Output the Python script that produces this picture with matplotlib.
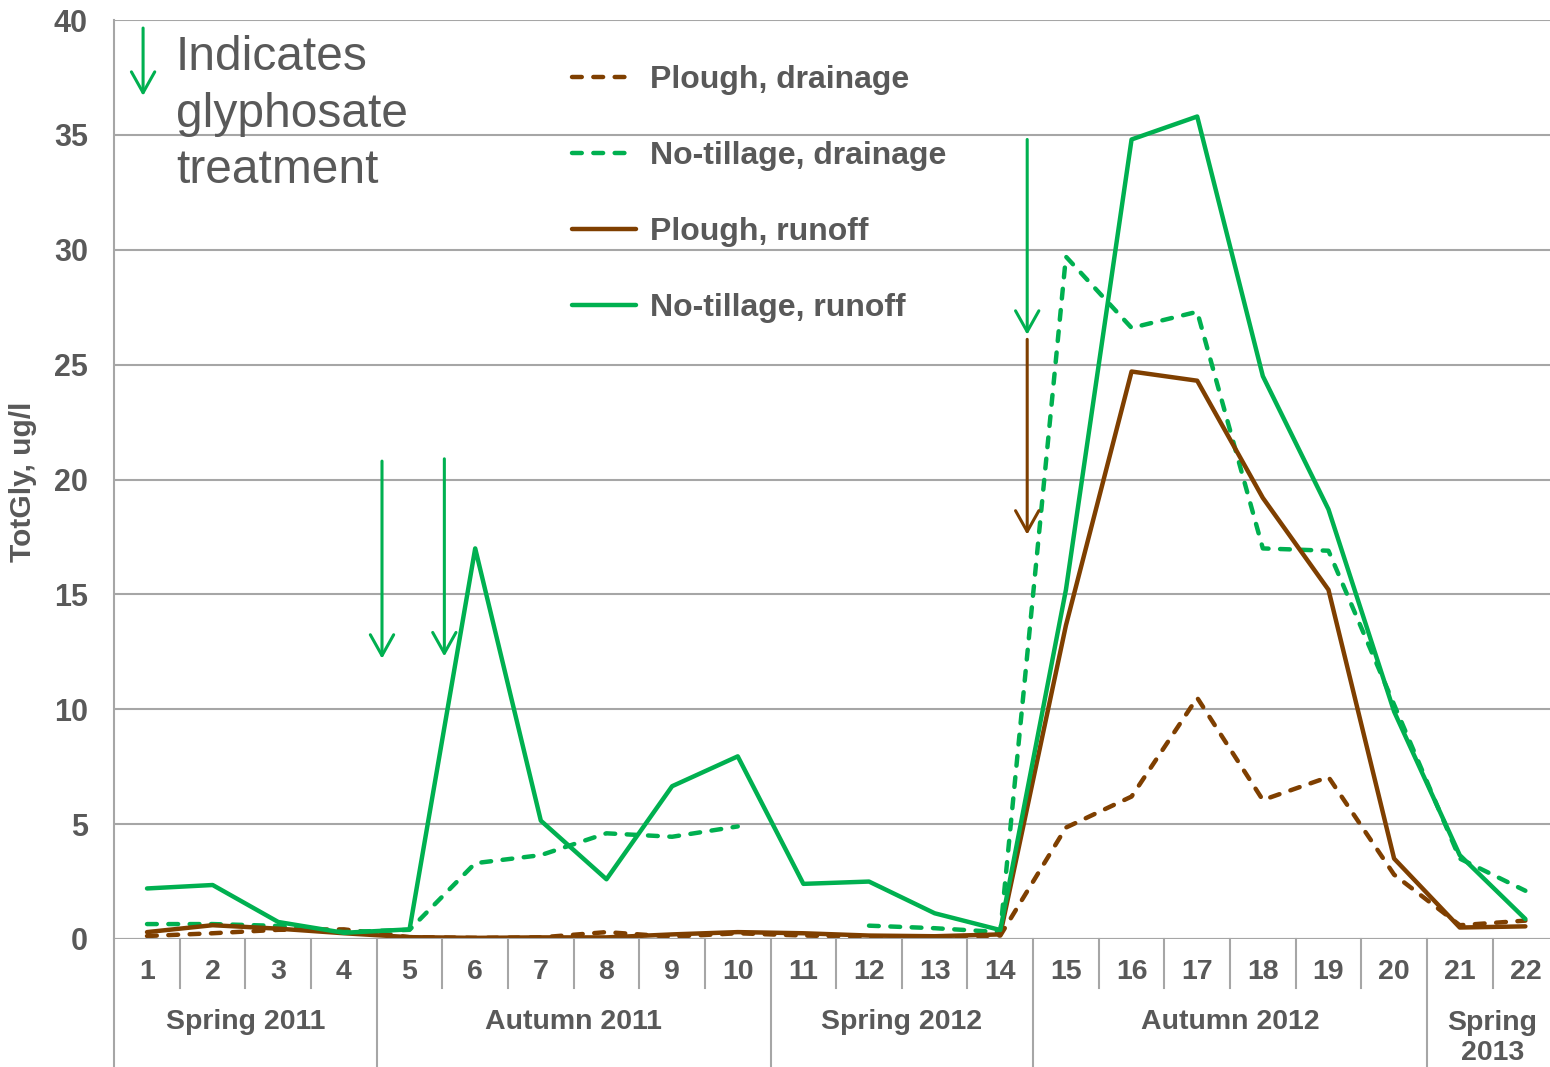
import matplotlib
matplotlib.use("Agg")
import matplotlib.pyplot as plt
import matplotlib.transforms as mtransforms
from matplotlib.lines import Line2D
import numpy as np

plt.rcParams['font.family'] = ['Liberation Sans', 'DejaVu Sans']

# data
samples = list(range(1, 23))
plough_drainage = [0.13, 0.25, 0.4, 0.42, 0.08, 0.05, 0.07, 0.3, 0.1, 0.25, 0.15,
                   0.1, 0.1, 0.15, 4.85, 6.2, 10.5, 6.05, 7.05, 2.8, 0.6, 0.8]
notill_drainage = [0.65, 0.65, 0.57, 0.3, 0.4, 3.3, 3.65, 4.6, 4.45, 4.9, np.nan,
                   0.58, 0.47, 0.3, 29.7, 26.6, 27.3, 17.0, 16.9, 10.2, 3.5, 2.1]
plough_runoff = [0.3, 0.6, 0.45, 0.25, 0.08, 0.05, 0.07, 0.07, 0.2, 0.3, 0.25,
                 0.15, 0.12, 0.2, 13.65, 24.7, 24.3, 19.2, 15.2, 3.5, 0.5, 0.55]
notill_runoff = [2.2, 2.35, 0.74, 0.27, 0.42, 17.0, 5.15, 2.6, 6.65, 7.95, 2.4,
                 2.5, 1.12, 0.39, 15.2, 34.8, 35.8, 24.5, 18.7, 9.9, 3.65, 0.87]

seasons = ["Spring 2011", "Autumn 2011", "Spring 2012", "Autumn 2012", "Spring\n2013"]
season_ends = [4, 10, 14, 20, 22]

# glyphosate treatments: (x position, y start, y end, colour key)
treatments = [(4.58, 20.8, 12.2, "green"), (5.53, 20.9, 12.3, "green"),
              (14.41, 34.8, 26.3, "green"), (14.41, 26.1, 17.6, "brown")]

green = '#00B050'
brown = '#7F3F00'
grey = '#595959'
linec = '#A6A6A6'

fig = plt.figure(figsize=(15.5, 10.67), dpi=100)
ax = fig.add_axes([114.2 / 1550, 128 / 1067, 1444 / 1550, 919 / 1067])

lw = 3.2
ax.plot(samples, plough_drainage, color=brown, lw=lw, ls=(0, (2.2, 2.6)),
        dash_capstyle='round', label="Plough, drainage")
ax.plot(samples, notill_drainage, color=green, lw=lw, ls=(0, (2.2, 2.6)),
        dash_capstyle='round', label="No-tillage, drainage")
ax.plot(samples, plough_runoff, color=brown, lw=lw, solid_capstyle='round',
        label="Plough, runoff")
ax.plot(samples, notill_runoff, color=green, lw=lw, solid_capstyle='round',
        label="No-tillage, runoff")

ax.set_xlim(0.5, 22.5)
ax.set_ylim(0, 40)
ax.set_yticks(range(0, 41, 5))
ax.yaxis.grid(True, color=linec, lw=1.5)
ax.set_axisbelow(True)
ax.tick_params(axis='y', length=0, pad=19, labelsize=22, labelcolor=grey)
for lab in ax.get_yticklabels():
    lab.set_fontweight('bold')
ax.set_xticks([])
for s in ['top', 'right', 'bottom']:
    ax.spines[s].set_visible(False)
ax.spines['left'].set_color(linec)
ax.spines['left'].set_linewidth(1.5)
ax.axhline(0, color=linec, lw=1.5)

ax.set_ylabel("TotGly, ug/l", fontsize=21.5, fontweight='bold', color=grey)
ax.yaxis.set_label_coords(-0.0535, 0.497)

# two-tier category axis
trans = mtransforms.blended_transform_factory(ax.transData, fig.transFigure)
y0 = 128 / 1067
for i in samples:
    ax.text(i, 1 - 972 / 1067, str(i), transform=trans, ha='center', va='center',
            fontsize=20.5, fontweight='bold', color=grey)
for i in range(1, 22):
    bottom = 0 if i in season_ends else 1 - 988 / 1067
    fig.add_artist(Line2D([i + 0.5, i + 0.5], [y0, bottom], transform=trans,
                          color=linec, lw=1.5))
fig.add_artist(Line2D([0.5, 0.5], [y0, 0], transform=trans, color=linec, lw=1.5))
start = 0.5
for name, end in zip(seasons, season_ends):
    mid = (start + end + 0.5) / 2
    if end == 22:
        mid = 21.5
    yy = 1 - 1022 / 1067 if "\n" not in name else 1 - 1038 / 1067
    ax.text(mid, yy, name, transform=trans, ha='center', va='center',
            fontsize=20.5, fontweight='bold', color=grey, linespacing=1.15)
    start = end + 0.5

# treatment arrows
cols = {"green": green, "brown": brown}
for x, ys, ye, c in treatments:
    ax.annotate('', xy=(x, ye), xytext=(x, ys),
                arrowprops=dict(arrowstyle='->, head_length=0.5, head_width=0.28',
                                color=cols[c], lw=2.2, mutation_scale=30,
                                shrinkA=0, shrinkB=0))
ax.annotate('', xy=(0.94, 36.7), xytext=(0.94, 39.65),
            arrowprops=dict(arrowstyle='->, head_length=0.5, head_width=0.28',
                            color=green, lw=2.2, mutation_scale=30,
                            shrinkA=0, shrinkB=0))
ax.text(176 / 1550, 1 - 35 / 1067, "Indicates\nglyphosate\ntreatment",
        transform=fig.transFigure, ha='left', va='top', fontsize=34.5,
        color=grey, linespacing=1.33)

leg = ax.legend(loc='upper left', bbox_to_anchor=(0.317, 0.951), frameon=False,
                fontsize=23, handlelength=2.0, handletextpad=0.44, labelspacing=1.44,
                borderpad=0, borderaxespad=0, labelcolor=grey)
for t in leg.get_texts():
    t.set_fontweight('bold')

fig.savefig("out.png", dpi=100)
